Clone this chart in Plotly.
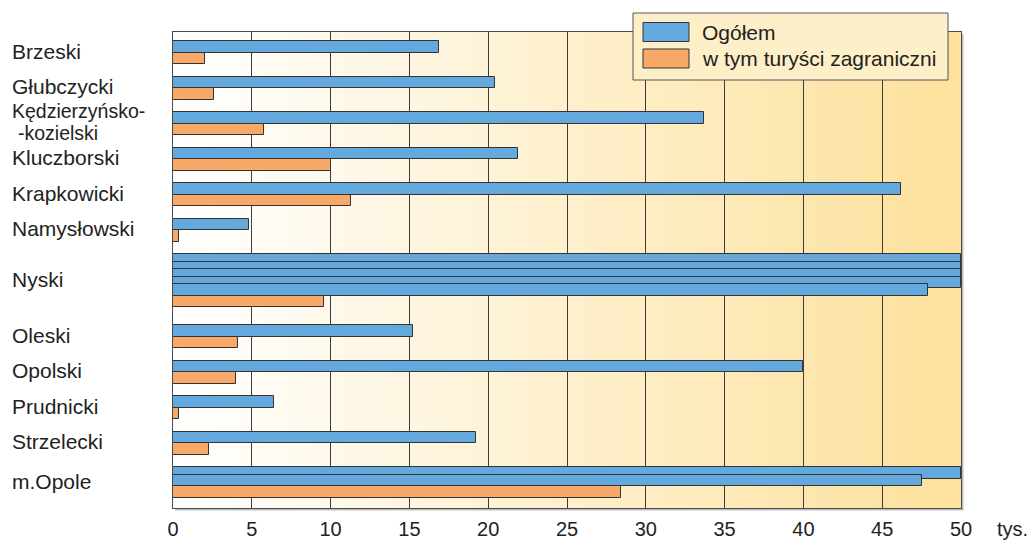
import plotly.graph_objects as go

# Turyści korzystający z noclegów według powiatów (tys.)
categories = [
    "Brzeski", "Głubczycki", "Kędzierzyńsko-kozielski", "Kluczborski",
    "Krapkowicki", "Namysłowski", "Nyski", "Oleski", "Opolski",
    "Prudnicki", "Strzelecki", "m.Opole",
]
ogolem = [16.9, 20.4, 33.7, 21.9, 46.2, 4.8, 247.9, 15.2, 40.0, 6.4, 19.2, 97.5]
zagraniczni = [2.0, 2.6, 5.8, 10.0, 11.3, 0.4, 9.6, 4.1, 4.0, 0.4, 2.3, 28.4]
x_ticks = [0, 5, 10, 15, 20, 25, 30, 35, 40, 45, 50]
unit_label = "tys."
legend_names = ["Ogółem", "w tym turyści zagraniczni"]

AXIS_MAX = 50

# page geometry (pixels)
W_PAGE, H_PAGE = 1034, 540
L, R, T, B = 173, 961, 32, 508
FONT = "Liberation Sans, Arial, Helvetica, sans-serif"
TXT = "#222222"

BLUE = "#64a9dd"
ORANGE = "#f8a867"
EDGE = "#333333"

# vertical layout of the bar groups (y axis runs in pixel units)
FIRST_TOP = 41.3
PITCH = 35.5
STACK = 7.5        # offset between wrapped rows of one long bar
EXTRA_GAP = 8.9    # extra room added after each wrapped row
BAR_H = 11.5


def px_x(px):
    return (px - L) / (R - L)


def px_y(py):
    return (B - py) / (B - T)


blue_x, blue_y, orange_x, orange_y, label_pos = [], [], [], [], []
offset = 0.0
for i, (tot, foreign) in enumerate(zip(ogolem, zagraniczni)):
    top = FIRST_TOP + PITCH * i + offset
    n_full = int(tot // AXIS_MAX) if tot > AXIS_MAX else 0
    segments = [AXIS_MAX] * n_full + [tot - AXIS_MAX * n_full]
    for k, seg in enumerate(segments):
        blue_x.append(seg)
        blue_y.append(top + STACK * k + BAR_H / 2)
    last_top = top + STACK * (len(segments) - 1)
    orange_x.append(foreign)
    orange_y.append(last_top + BAR_H * 1.5)
    group_bottom = last_top + 2 * BAR_H
    label_pos.append((top + group_bottom) / 2 - 1.5)
    offset += EXTRA_GAP * n_full

fig = go.Figure()
fig.add_trace(go.Bar(
    x=blue_x, y=blue_y, orientation="h", width=BAR_H, name=legend_names[0],
    marker=dict(color=BLUE, line=dict(color=EDGE, width=1)), showlegend=False,
))
fig.add_trace(go.Bar(
    x=orange_x, y=orange_y, orientation="h", width=BAR_H, name=legend_names[1],
    marker=dict(color=ORANGE, line=dict(color=EDGE, width=1)), showlegend=False,
))

shapes = []
# horizontal background gradient: white -> pale gold
N = 120
c0 = (255, 255, 255)
c1 = (253, 225, 156)
for j in range(N):
    f = (j + 0.5) / N
    col = tuple(round(a + (b - a) * f) for a, b in zip(c0, c1))
    shapes.append(dict(
        type="rect", xref="x", yref="y",
        x0=AXIS_MAX * j / N, x1=AXIS_MAX * (j + 1) / N + 0.05,
        y0=T, y1=B, fillcolor="rgb(%d,%d,%d)" % col,
        line=dict(width=0), layer="below",
    ))

# soft shadow on the right and bottom of the frame
shapes.append(dict(type="line", xref="paper", yref="paper",
                   x0=px_x(R + 1.5), x1=px_x(R + 1.5), y0=px_y(T + 2), y1=px_y(B + 1.5),
                   line=dict(color="#bdbdbd", width=2), layer="below"))
shapes.append(dict(type="line", xref="paper", yref="paper",
                   x0=px_x(L + 2), x1=px_x(R + 2.5), y0=px_y(B + 1.5), y1=px_y(B + 1.5),
                   line=dict(color="#bdbdbd", width=2), layer="below"))

# legend box
LG_X0, LG_X1, LG_Y0, LG_Y1 = 633, 948, 13, 80
shapes.append(dict(type="rect", xref="paper", yref="paper",
                   x0=px_x(LG_X0), x1=px_x(LG_X1), y0=px_y(LG_Y1), y1=px_y(LG_Y0),
                   fillcolor="#fdefc7", line=dict(color="#555555", width=1), layer="above"))
annotations = []
for k, (name, col) in enumerate(zip(legend_names, [BLUE, ORANGE])):
    yc = 32 + k * 26.5
    shapes.append(dict(type="rect", xref="paper", yref="paper",
                       x0=px_x(643), x1=px_x(689), y0=px_y(yc + 9.5), y1=px_y(yc - 9.5),
                       fillcolor=col, line=dict(color=EDGE, width=1), layer="above"))
    annotations.append(dict(text=name, xref="paper", yref="paper",
                            x=px_x(700), y=px_y(yc), xanchor="left", yanchor="middle",
                            showarrow=False, font=dict(family=FONT, size=21, color=TXT)))

# category labels (hyphenated names wrap onto two lines)
for name, yc in zip(categories, label_pos):
    if "-" in name:
        head, tail = name.split("-", 1)
        lines = [(head + "-", 10, yc - 11, 19.5), ("-" + tail, 16, yc + 11, 19.5)]
    else:
        lines = [(name, 10, yc, 21)]
    for txt, xl, yl, fs in lines:
        annotations.append(dict(text=txt, xref="paper", yref="y",
                                x=px_x(xl), y=yl, xanchor="left", yanchor="middle",
                                showarrow=False,
                                font=dict(family=FONT, size=fs, color=TXT)))

annotations.append(dict(text=unit_label, xref="paper", yref="paper",
                        x=px_x(995), y=px_y(529), xanchor="left", yanchor="middle",
                        showarrow=False, font=dict(family=FONT, size=20, color=TXT)))

fig.update_layout(
    width=W_PAGE, height=H_PAGE,
    margin=dict(l=L, r=W_PAGE - R, t=T, b=H_PAGE - B, pad=0, autoexpand=False),
    paper_bgcolor="white", plot_bgcolor="white",
    barmode="overlay", bargap=0,
    shapes=shapes, annotations=annotations,
    font=dict(family=FONT, size=20, color=TXT),
    xaxis=dict(
        range=[0, AXIS_MAX], tickvals=x_ticks, ticktext=[str(v) for v in x_ticks],
        showgrid=True, gridcolor="#3d3d3d", gridwidth=1, zeroline=False,
        showline=True, linecolor="#4a4a4a", linewidth=1, mirror=True,
        ticks="", ticklen=0, ticklabelstandoff=3, automargin=False,
        tickfont=dict(family=FONT, size=20, color=TXT), fixedrange=True,
    ),
    yaxis=dict(
        range=[B, T], showticklabels=False, showgrid=False, zeroline=False,
        showline=True, linecolor="#4a4a4a", linewidth=1, mirror=True,
        ticks="", automargin=False, fixedrange=True,
    ),
)

fig.write_html("out.html")
